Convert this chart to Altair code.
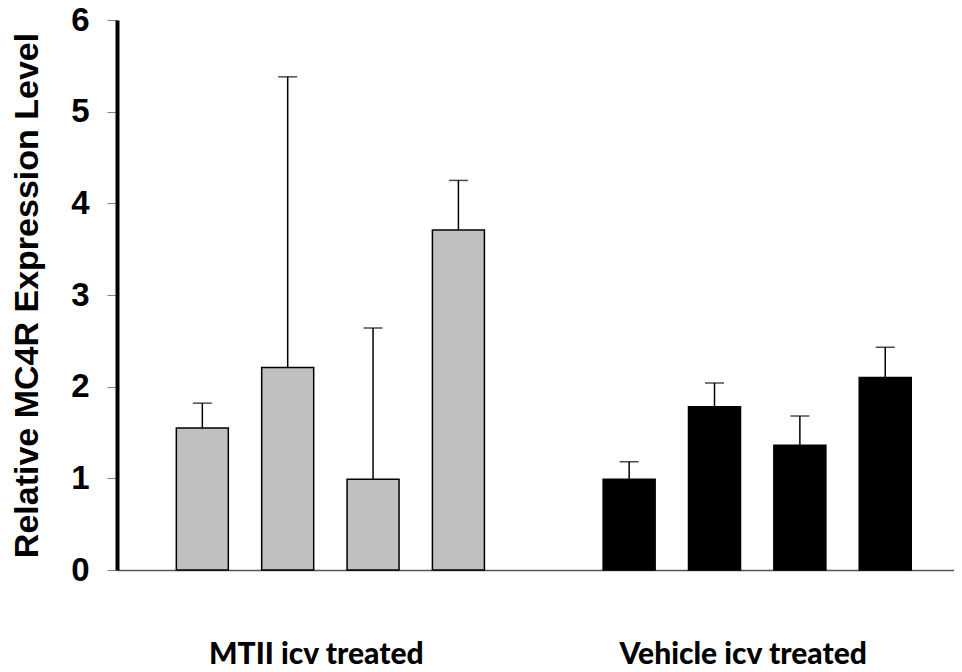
import altair as alt
import pandas as pd

# data
groups = ["MTII icv treated"] * 4 + ["Vehicle icv treated"] * 4
positions = [1, 2, 3, 4, 6, 7, 8, 9]
means = [1.55, 2.21, 0.99, 3.71, 0.99, 1.78, 1.36, 2.10]
errors = [0.27, 3.17, 1.65, 0.54, 0.19, 0.26, 0.32, 0.33]
fills = ["#c0c0c0"] * 4 + ["#000000"] * 4
y_ticks = [0, 1, 2, 3, 4, 5, 6]

df = pd.DataFrame({
    "group": groups,
    "pos": positions,
    "mean": means,
    "err": errors,
    "fill": fills,
})
df["upper"] = df["mean"] + df["err"]

group_names = ["MTII icv treated", "Vehicle icv treated"]
group_centers = [df[df.group == g].pos.mean() - 0.17 for g in group_names]

x_scale = alt.Scale(domain=[0.059, 9.747], nice=False, zero=False)
y_scale = alt.Scale(domain=[0, 6], nice=False)

label_expr = "datum.value < 5 ? '%s' : '%s'" % (group_names[0], group_names[1])

x_enc = alt.X(
    "pos:Q",
    scale=x_scale,
    axis=alt.Axis(
        title=None,
        values=group_centers,
        labelExpr=label_expr,
        ticks=False,
        grid=False,
        domainColor="#555555",
        domainWidth=1.5,
        labelFont="Lato",
        labelFontWeight=900,
        labelFontSize=30,
        labelColor="#000000",
        labelBaseline="alphabetic",
        labelPadding=93,
        labelLimit=0,
        labelOverlap=False,
    ),
)

y_enc = alt.Y(
    "mean:Q",
    scale=y_scale,
    axis=alt.Axis(
        title="Relative MC4R Expression Level",
        values=y_ticks,
        format="d",
        grid=False,
        domainColor="#000000",
        domainWidth=4,
        tickColor="#808080",
        tickWidth=1,
        tickSize=10,
        labelFont="Liberation Sans",
        labelFontWeight="bold",
        labelFontSize=33,
        labelColor="#000000",
        labelPadding=18,
        labelLimit=0,
        titleFont="Liberation Sans",
        titleFontWeight="bold",
        titleFontSize=34,
        titleColor="#000000",
        titlePadding=26,
    ),
)

base = alt.Chart(df)

err_rule = base.mark_rule(color="#000000", strokeWidth=1.5).encode(
    x=alt.X("pos:Q", scale=x_scale),
    y=alt.Y("mean:Q", scale=y_scale),
    y2="upper:Q",
)

caps = base.mark_tick(color="#000000", thickness=1.5, size=19, orient="horizontal").encode(
    x=alt.X("pos:Q", scale=x_scale),
    y=alt.Y("upper:Q", scale=y_scale),
)

bars = base.mark_bar(size=52, stroke="#000000", strokeWidth=1.5).encode(
    x=x_enc,
    y=y_enc,
    fill=alt.Fill("fill:N", scale=None),
)

chart = (
    alt.layer(err_rule, bars, caps)
    .properties(
        width=837,
        height=550,
        autosize=alt.AutoSizeParams(type="none"),
        padding={"left": 109, "top": 12, "right": 0, "bottom": 100},
        background="#ffffff",
    )
    .configure_view(stroke=None)
)

chart.save("out.html", embed_options={"renderer": "svg", "actions": False})
